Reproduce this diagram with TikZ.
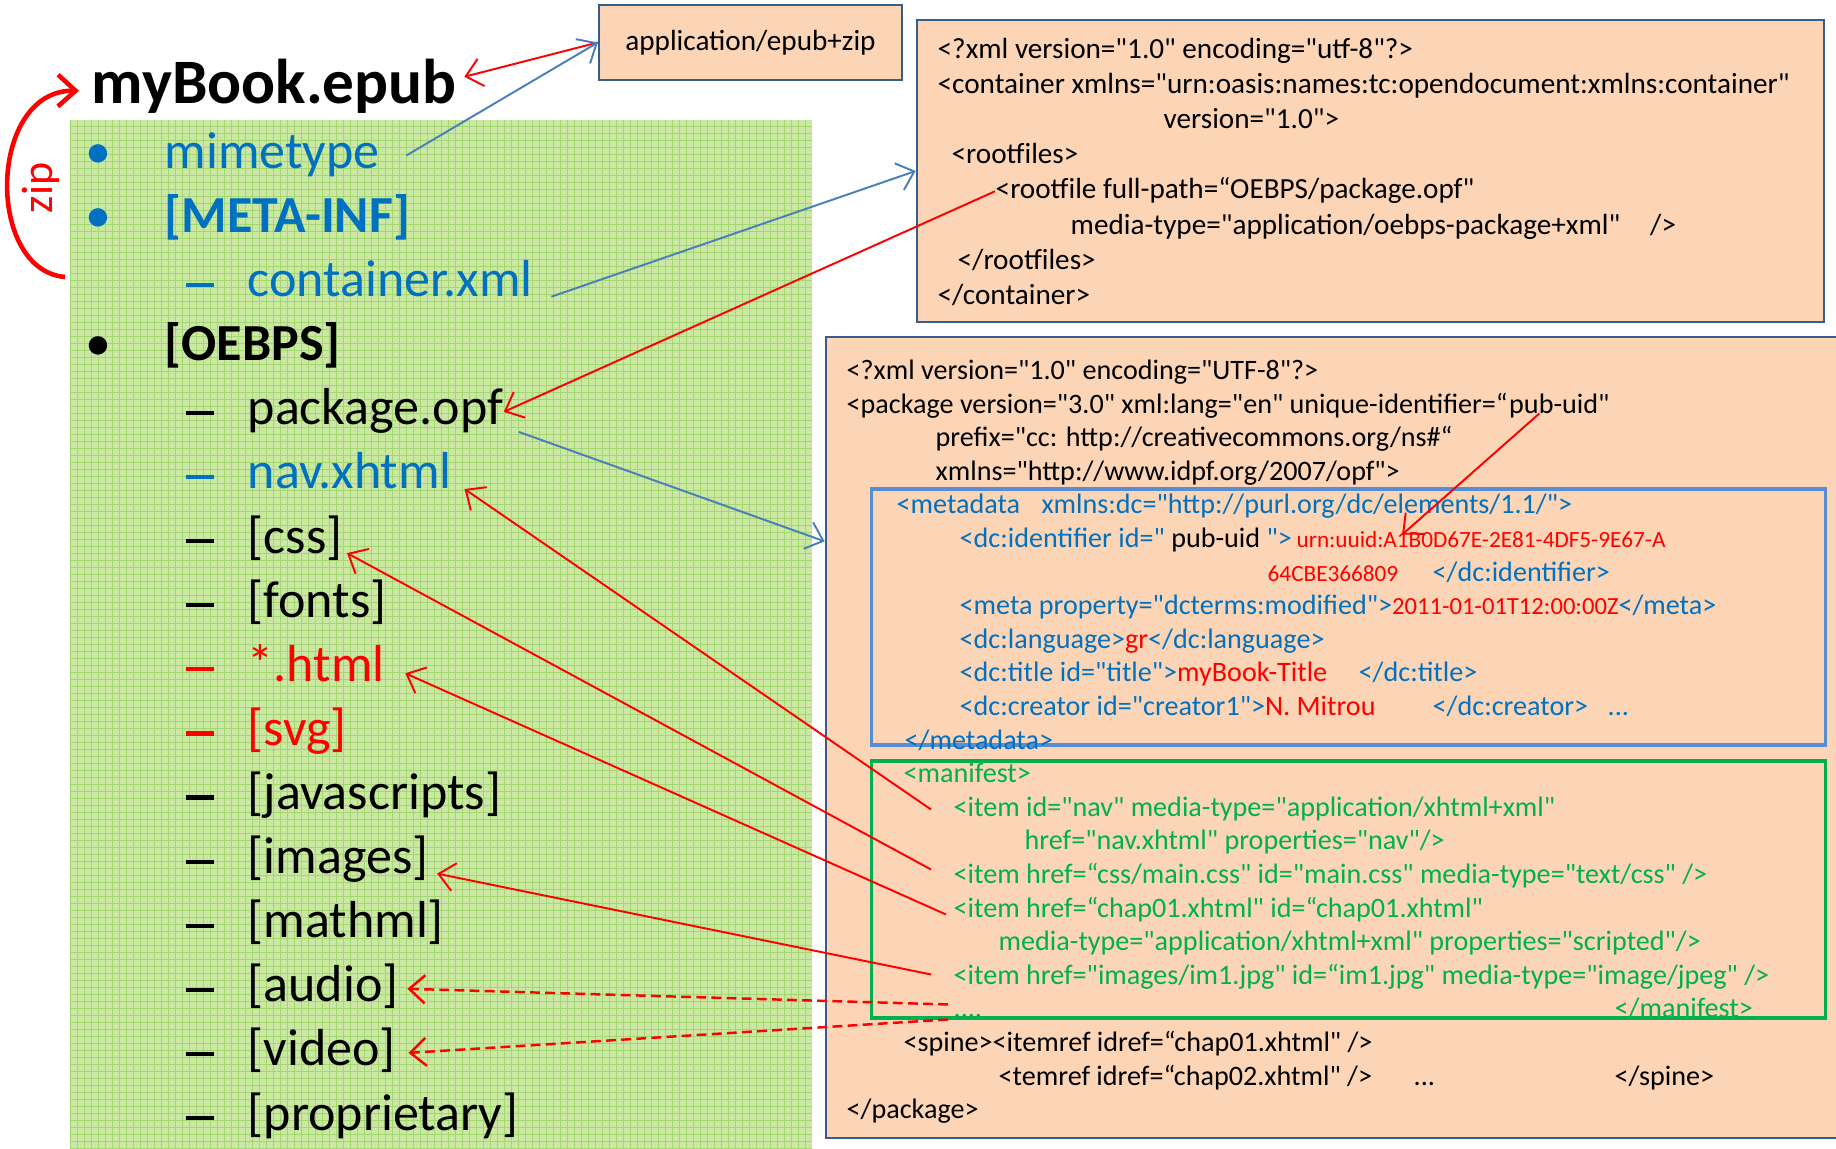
\documentclass[tikz,border=0pt]{standalone}
\usepackage{fontspec}
\setmainfont{Carlito}[Ligatures=TeXReset]
\usetikzlibrary{arrows.meta}

\definecolor{xblue}{RGB}{0,112,192}
\definecolor{xred}{RGB}{255,0,0}
\definecolor{xgreen}{RGB}{0,176,80}
\definecolor{xlink}{RGB}{74,126,187}
\definecolor{peach}{RGB}{251,213,181}
\definecolor{boxline}{RGB}{56,93,138}
\definecolor{metaline}{RGB}{85,142,213}
\definecolor{leaf}{RGB}{202,232,163}
\definecolor{leafgrid}{RGB}{165,215,112}

\newcommand\listfont{\fontsize{14.8}{18}\selectfont}
\newcommand\bookfont{\fontsize{18}{22}\selectfont\bfseries}
\newcommand\xmlfont{\fontsize{8.3}{10}\selectfont}
\newcommand\pkgfont{\fontsize{8}{10}\selectfont}
\newcommand\uuidfont{\fontsize{6.6}{8}\selectfont}
\newcommand\datefont{\fontsize{7}{8}\selectfont}
\newcommand\zipfont{\fontsize{12.5}{14}\selectfont}
\newcommand\listdash{\rule[.19em]{.54em}{.08em}}

\tikzset{
  codebox/.style={draw=boxline, fill=peach, line width=.6pt, inner sep=0pt, font=\xmlfont},
  partframe/.style={draw, line width=.9pt, minimum width=9.53cm, minimum height=2.56cm, inner sep=0pt},
  xmlline/.style={anchor=base west, inner sep=0pt, yshift=-.25mm, font=\xmlfont, text height=6.2pt, text depth=2.1pt},
  pkgline/.style={xmlline, font=\pkgfont, text height=6pt, text depth=2pt},
  listitem/.style={anchor=base west, inner sep=0pt, yshift=-.35mm, font=\listfont, text height=11.1pt, text depth=3.7pt},
  listmark/.style={anchor=base, inner sep=0pt, yshift=-.35mm, font=\listfont},
  redlink/.style={draw=xred, line width=.55pt, -{Straight Barb[length=4.5pt,width=8pt]}},
  bluelink/.style={draw=xlink, line width=.55pt, -{Straight Barb[length=4.5pt,width=8pt]}},
  dashlink/.style={line width=.7pt, dash pattern=on 2.8pt off 1.5pt},
  ziparrow/.style={draw=xred, line width=1.3pt, -{Straight Barb[length=5pt,width=9pt]}}
}

\begin{document}
\begin{tikzpicture}[x=0.01cm, y=-0.01cm]
  \useasboundingbox (0,0) rectangle (1836,1149);

  % folder contents
  \fill[leaf] (70,120) rectangle (812,1149);
  \draw[leafgrid, line width=.3pt, step=.07cm] (70,1149) grid (812,120);

  \node[anchor=base west, inner sep=0pt, font=\bookfont] (book) at (91,104) {myBook.epub};

  \foreach \name/\lvl/\col/\txt [count=\i from 0] in {
      mimetype/1/xblue/mimetype, metainf/1/xblue/{\bfseries[META-INF]},
      container/2/xblue/container.xml, oebps/1/black/{\bfseries[OEBPS]},
      opf/2/black/package.opf, nav/2/xblue/nav.xhtml, css/2/black/{[css]},
      fonts/2/black/{[fonts]}, html/2/xred/{*.html}, svg/2/xred/{[svg]},
      js/2/black/{[javascripts]}, images/2/black/{[images]}, mathml/2/black/{[mathml]},
      audio/2/black/{[audio]}, video/2/black/{[video]}, prop/2/black/{[proprietary]}} {
    \pgfmathsetmacro\yb{165+64.1*\i}
    \ifnum\lvl=1
      \node[listmark, text=\col] (\name-mark) at (98,\yb) {\textbullet};
      \node[listitem, text=\col] (\name) at (164,\yb) {\txt};
    \else
      \node[listmark, text=\col] (\name-mark) at (200,\yb) {\listdash};
      \node[listitem, text=\col] (\name) at (247,\yb) {\txt};
    \fi
  }

  % zip
  \node[text=xred, rotate=90, font=\zipfont, inner sep=0pt] (ziplabel) at (41,188) {zip};
  \coordinate (zipfrom) at (65,277);
  \draw[ziparrow] (zipfrom) .. controls (-15,270) and (-12,90) .. ([xshift=-1.2mm,yshift=-.4mm]book.west);

  % mimetype
  \node[codebox, minimum width=3.03cm, minimum height=.75cm] (mime) at (750.5,42.5) {application/epub+zip};

  % container.xml
  \node[codebox, minimum width=9.07cm, minimum height=3.02cm] (contbox) at (1370.5,171) {};
  \node[xmlline] (c1) at (937,56) {<?xml version="1.0" encoding="utf-8"?>};
  \node[xmlline] (c2) at (937,91) {<container xmlns="urn:oasis:names:tc:opendocument:xmlns:container"};
  \node[xmlline] (c3) at (1163,126) {version="1.0">};
  \node[xmlline] (c4) at (951,161) {<rootfiles>};
  \node[xmlline] (rootfile) at (995,196) {<rootfile full-path=“OEBPS/package.opf"};
  \node[xmlline] (c6) at (1070,232) {media-type="application/oebps-package+xml"\hspace{3mm}/>};
  \node[xmlline] (c7) at (957,267) {</rootfiles>};
  \node[xmlline] (c8) at (937,302) {</container>};

  % package.opf
  \node[codebox, minimum width=10.19cm, minimum height=8.01cm] (pkgbox) at (1335.5,737.5) {};
  \node[partframe, draw=metaline] (metaframe) at (1348.5,617) {};
  \node[partframe, draw=xgreen, minimum height=2.57cm] (manframe) at (1348.5,889.5) {};

  \node[pkgline] (p1) at (846,377) {<?xml version="1.0" encoding="UTF-8"?>};
  \node[pkgline] (p2) at (846,411) {<package version="3.0" xml:lang="en" unique-identifier=“};
  \node[pkgline, yshift=.25mm] (uid) at (p2.base east) {pub-uid"};
  \node[pkgline] (p3) at (935,444) {prefix="cc: http://creativecommons.org/ns\#“};
  \node[pkgline] (p4) at (935,478) {xmlns="http://www.idpf.org/2007/opf">};
  \node[pkgline, text=xblue] (p5) at (896,511) {<metadata\hspace{1.5mm} xmlns:dc="http://purl.org/dc/elements/1.1/">};
  \node[pkgline, text=xblue] (p6) at (959,545) {<dc:identifier id="\textcolor{black}{\ pub-uid\ }">};
  \node[pkgline, text=xred, font=\uuidfont] (urn) at (1296,545) {urn:uuid:A1B0D67E-2E81-4DF5-9E67-A};
  \node[pkgline, text=xred, font=\uuidfont] (p7a) at (1267,579) {64CBE366809};
  \node[pkgline, text=xblue] (p7b) at (1432,579) {</dc:identifier>};
  \node[pkgline, text=xblue] (p8) at (959,612) {<meta property="dcterms:modified">\textcolor{xred}{\datefont 2011-01-01T12:00:00Z}</meta>};
  \node[pkgline, text=xblue] (p9) at (959,646) {<dc:language>\textcolor{xred}{gr}</dc:language>};
  \node[pkgline, text=xblue] (p10a) at (959,679) {<dc:title id="title">\textcolor{xred}{myBook-Title}};
  \node[pkgline, text=xblue] (p10b) at (1358,679) {</dc:title>};
  \node[pkgline, text=xblue] (p11a) at (959,713) {<dc:creator id="creator1">\textcolor{xred}{N. Mitrou}};
  \node[pkgline, text=xblue] (p11b) at (1432,713) {</dc:creator>};
  \node[pkgline, text=xblue] (p11c) at (1607,713) {...};
  \node[pkgline, text=xblue] (p12) at (904,747) {</metadata>};
  \node[pkgline, text=xgreen] (p13) at (903,780) {<manifest>};
  \node[pkgline, text=xgreen] (navitem) at (953,814) {<item id="nav" media-type="application/xhtml+xml"};
  \node[pkgline, text=xgreen] (p15) at (1024,847) {href="nav.xhtml" properties="nav"/>};
  \node[pkgline, text=xgreen] (cssitem) at (953,881) {<item href=“css/main.css" id="main.css" media-type="text/css" />};
  \node[pkgline, text=xgreen] (chapitem) at (953,915) {<item href=“chap01.xhtml" id=“chap01.xhtml"};
  \node[pkgline, text=xgreen] (p18) at (998,948) {media-type="application/xhtml+xml" properties="scripted"/>};
  \node[pkgline, text=xgreen] (imgitem) at (953,982) {<item href="images/im1.jpg" id=“im1.jpg" media-type="image/jpeg" />};
  \node[pkgline, text=xgreen] (dots) at (953,1015) {....};
  \node[pkgline, text=xgreen] (p20b) at (1614,1015) {</manifest>};
  \node[pkgline] (p21) at (903,1049) {<spine><itemref idref=“chap01.xhtml" />};
  \node[pkgline] (p22a) at (998,1083) {<temref idref=“chap02.xhtml" />};
  \node[pkgline] (p22b) at (1413,1083) {...};
  \node[pkgline] (p22c) at (1614,1083) {</spine>};
  \node[pkgline] (p23) at (846,1116) {</package>};

  % links
  \draw[redlink] (mime.west) -- ([xshift=.7mm,yshift=1mm]book.east);
  \draw[bluelink] ([xshift=2.6mm]mimetype.east) -- (mime.west);
  \draw[bluelink] ([xshift=1.8mm]container.base east) -- (contbox.west);
  \draw[redlink] (rootfile.west) -- (opf.east);
  \draw[bluelink] ([xshift=1.5mm,yshift=-2mm]opf.east) -- (pkgbox.159);
  \draw[redlink] ([xshift=-2mm]uid.base) -- ([xshift=10.6mm,yshift=-.9mm]urn.north west);
  \draw[redlink] ([xshift=-2.2mm]navitem.west) -- ([xshift=1.2mm]nav.base east);
  \draw[redlink] ([xshift=-2.2mm,yshift=.7mm]cssitem.west) -- ([xshift=.4mm]css.base east);
  \draw[redlink] ([xshift=-.7mm,yshift=-.4mm]chapitem.west) -- ([xshift=2mm,yshift=-.5mm]html.east);
  \draw[redlink] ([xshift=-2.2mm,yshift=.3mm]imgitem.west) -- ([xshift=.8mm]images.base east);
  \draw[redlink, dashlink] ([xshift=-.5mm,yshift=.6mm]dots.west) -- ([xshift=.8mm]audio.east);
  \draw[redlink, dashlink] ([xshift=-.5mm,yshift=-.9mm]dots.west) -- ([xshift=1.2mm]video.east);
\end{tikzpicture}
\end{document}
